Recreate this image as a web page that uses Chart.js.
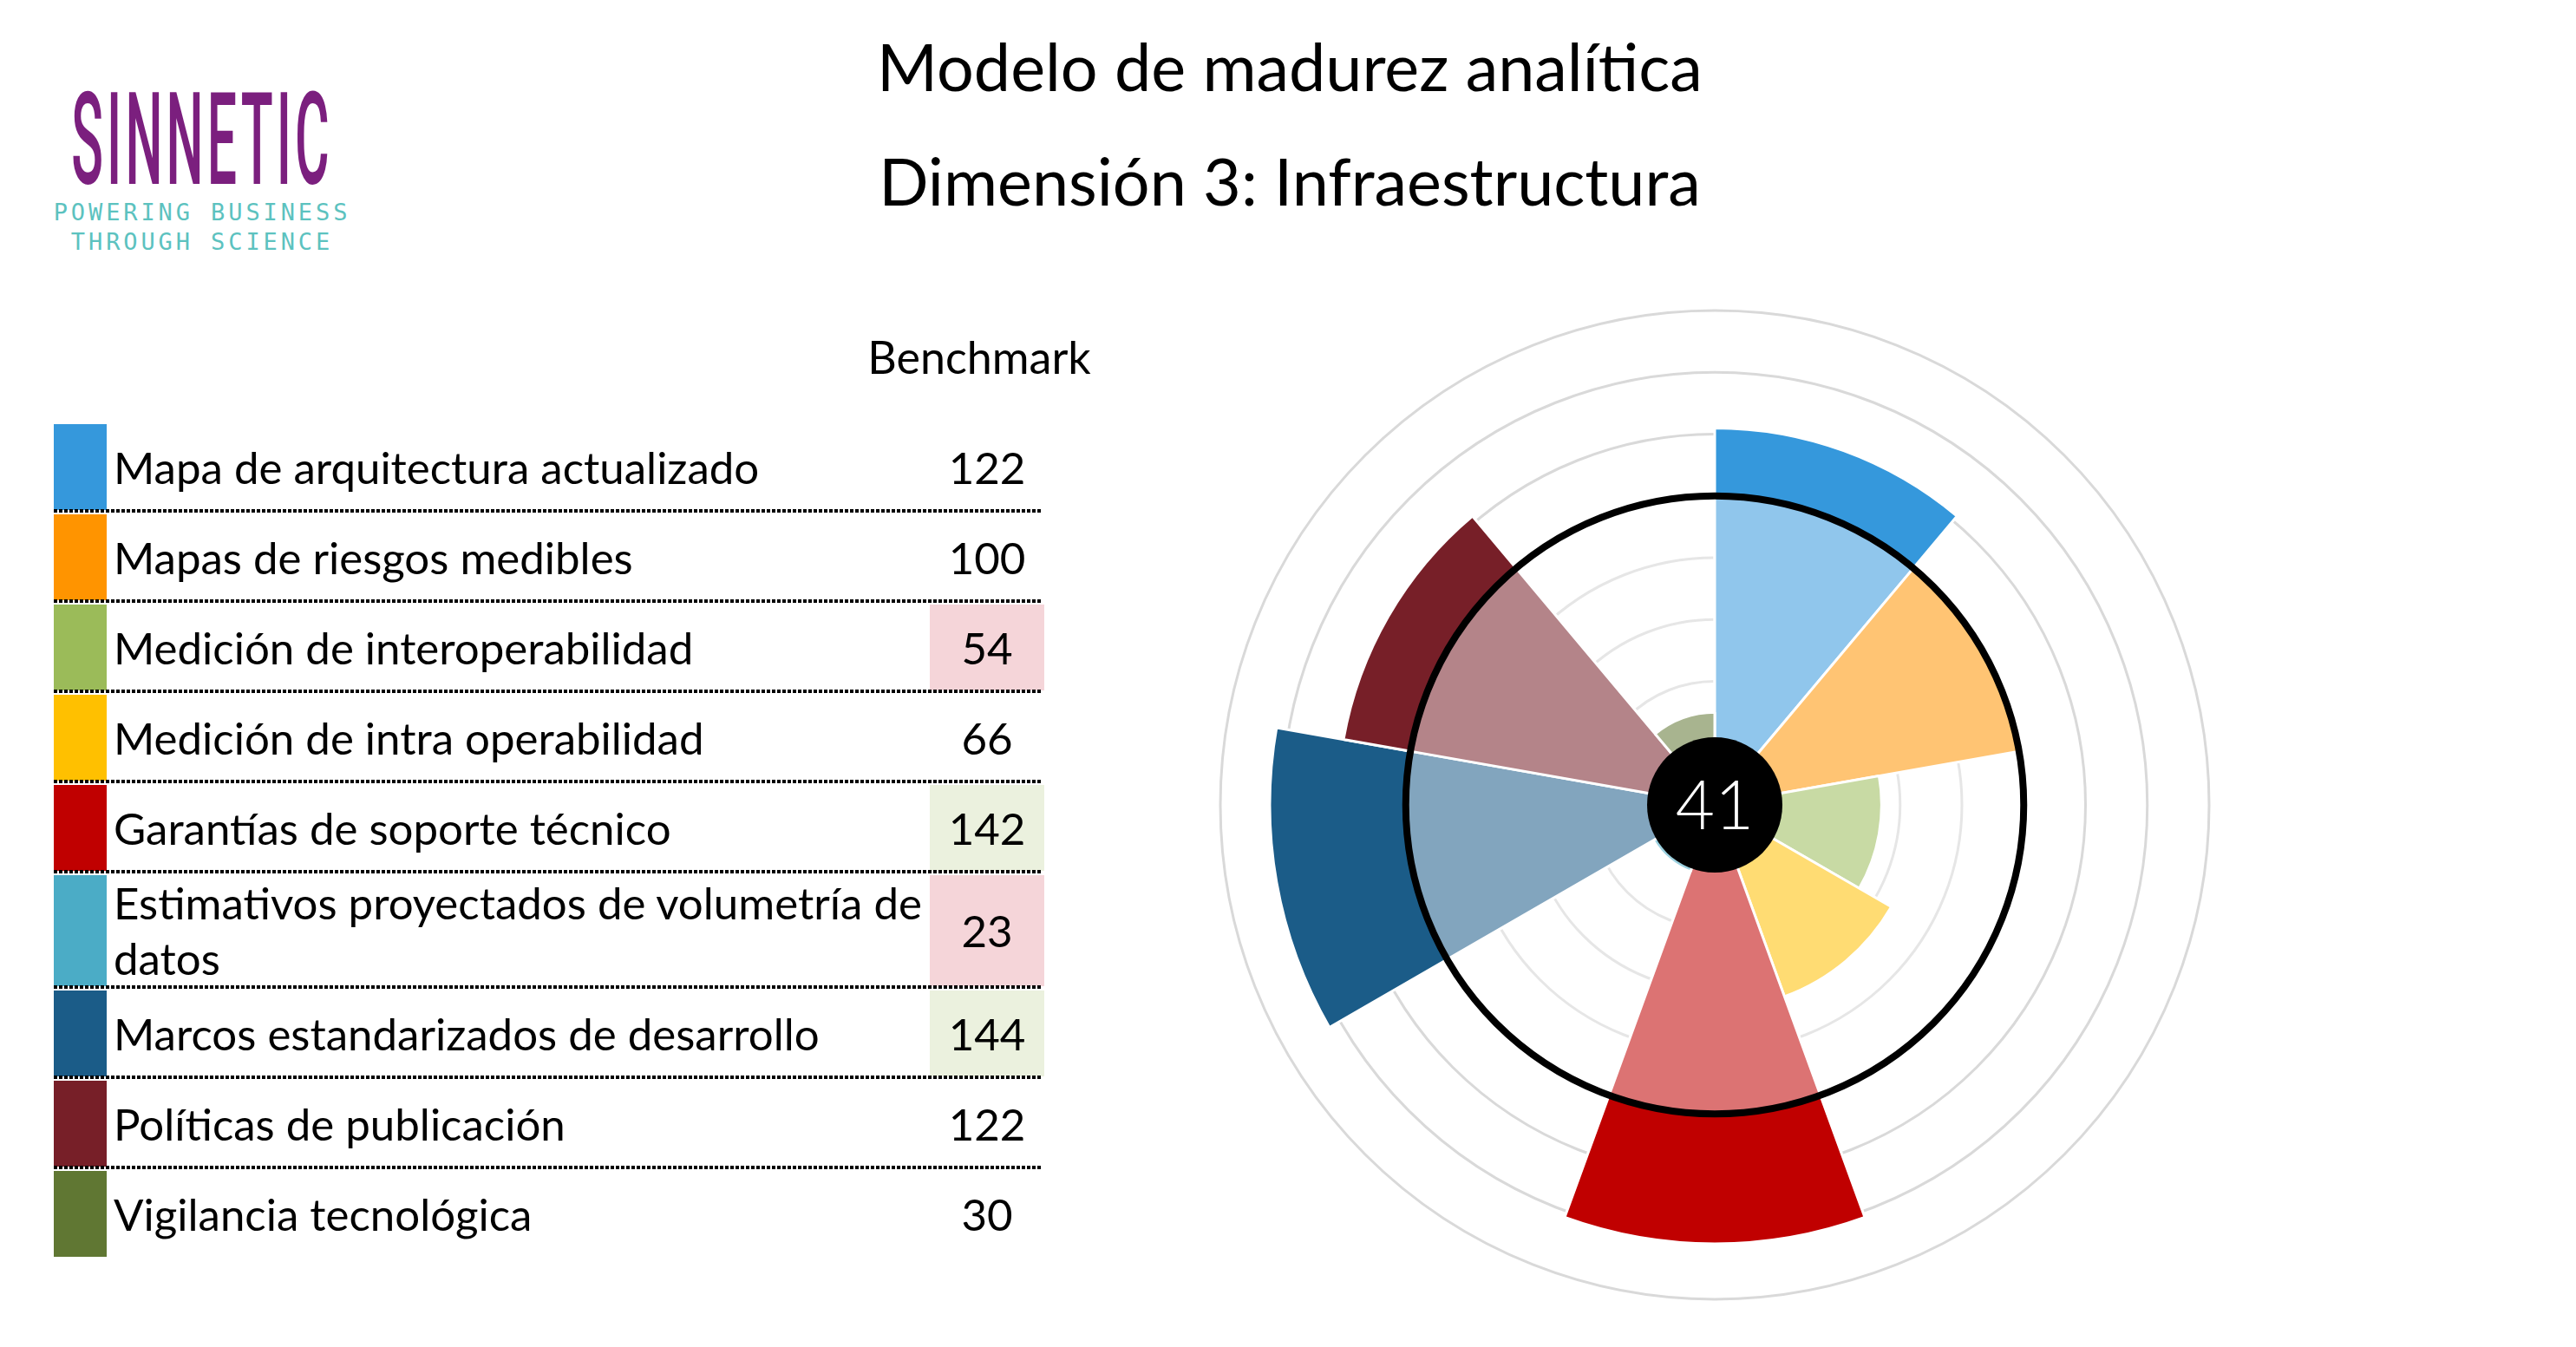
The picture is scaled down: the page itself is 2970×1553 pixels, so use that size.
<!DOCTYPE html>
<html lang="es">
<head>
<meta charset="utf-8">
<title>Modelo de madurez analítica</title>
<script src="https://cdn.jsdelivr.net/npm/chart.js@4.4.1/dist/chart.umd.min.js"></script>
<style>
  html, body { margin: 0; padding: 0; background: #fff; }
  body {
    width: 2970px; height: 1553px; position: relative; overflow: hidden;
    font-family: Lato, "Open Sans", sans-serif; color: #000;
  }

  /* ── logo ── */
  .brand {
    position: absolute; left: 233px; top: 88px;
    transform: translateX(-50%) scaleX(0.41);
    font-family: Roboto, sans-serif; font-weight: 500;
    font-size: 148px; line-height: 1; letter-spacing: 10px;
    color: #7B1F7E; white-space: nowrap;
  }
  .tag {
    position: absolute; left: 233px; top: 228px;
    transform: translateX(-50%);
    font-family: "DejaVu Sans Mono", monospace; font-size: 27px;
    line-height: 34px; letter-spacing: 3.9px; color: #5CC2BF;
    text-align: center; white-space: nowrap;
  }

  /* ── títulos ── */
  .titulo {
    position: absolute; left: 987px; width: 1000px; text-align: center;
    font-size: 75.5px; line-height: 1; white-space: nowrap;
  }
  .bench-head {
    position: absolute; left: 929px; top: 385px; width: 400px; text-align: center;
    font-size: 52px; line-height: 1;
  }

  /* ── tabla ── */
  #tabla { position: absolute; left: 62px; top: 487px; width: 1142px; }
  .fila {
    position: relative; display: flex; box-sizing: border-box; min-height: 104px;
    padding: 2px 0 3px;
  }
  .fila::after {
    content: ""; position: absolute; left: 0; right: 4px; bottom: 0; height: 4px;
    background: repeating-linear-gradient(90deg, #000 0 4px, transparent 4px 6px);
  }
  .fila:last-child::after { display: none; }
  .sw  { flex: 0 0 61px; }
  .lab { flex: 1 1 auto; padding-left: 8px; align-self: center; font-size: 51px; line-height: 64px; }
  .val {
    flex: 0 0 132px; display: flex; align-items: center; justify-content: center;
    font-size: 51px; line-height: 64px;
  }
  .val.low  { background: #F5D5D9; }
  .val.high { background: #EBF1DE; }

  /* ── gráfico ── */
  .chart-box { position: absolute; left: 1377px; top: 328px; width: 1200px; height: 1200px; }
</style>
</head>
<body>

<div class="brand">SINNETIC</div>
<div class="tag">POWERING BUSINESS<br>THROUGH SCIENCE</div>

<div class="titulo" style="top:38px">Modelo de madurez analítica</div>
<div class="titulo" style="top:170px">Dimensión 3: Infraestructura</div>

<div class="bench-head">Benchmark</div>
<div id="tabla"></div>

<div class="chart-box"><canvas id="chartRueda" width="1200" height="1200"></canvas></div>

<script>
// ── Datos ──
const labels = [
  "Mapa de arquitectura actualizado",
  "Mapas de riesgos medibles",
  "Medición de interoperabilidad",
  "Medición de intra operabilidad",
  "Garantías de soporte técnico",
  "Estimativos proyectados de volumetría de datos",
  "Marcos estandarizados de desarrollo",
  "Políticas de publicación",
  "Vigilancia tecnológica"
];
const benchmark    = [122, 100, 54, 66, 142, 23, 144, 122, 30];
// parte de cada sector que queda dentro del anillo de referencia
const dentroAnillo = [100, 100, 54, 66, 100, 23, 100, 100, 30];
// resaltado de la columna Benchmark (formato condicional)
const marcas       = ["", "", "low", "", "high", "low", "high", "", ""];
const colores      = ["#3598DC", "#FF9400", "#9BBB59", "#FFC000", "#C00000", "#4BACC6", "#1B5C88", "#771F28", "#607733"];
const escalaMax    = 160;
const pasoGrid     = 20;
const anillo       = 100;
const puntaje      = 41;

// ── Tabla ──
const tabla = document.getElementById("tabla");
labels.forEach((lab, i) => {
  const fila = document.createElement("div");
  fila.className = "fila";
  fila.innerHTML =
    `<div class="sw" style="background:${colores[i]}"></div>` +
    `<div class="lab">${lab}</div>` +
    `<div class="val ${marcas[i]}">${benchmark[i]}</div>`;
  tabla.appendChild(fila);
});

// ── Helpers ──
function tint(hex, a) {
  const n = parseInt(hex.slice(1), 16);
  const ch = [n >> 16, (n >> 8) & 255, n & 255].map(v => Math.round(v * a + 255 * (1 - a)));
  return `rgb(${ch.join(",")})`;
}

// anillo negro + círculo central con el puntaje
const centro = {
  id: "centro",
  afterDatasetsDraw(chart) {
    const { ctx } = chart;
    const r = chart.scales.r;
    const cx = r.xCenter, cy = r.yCenter;
    ctx.save();
    ctx.beginPath();
    ctx.arc(cx, cy, r.getDistanceFromCenterForValue(anillo), 0, Math.PI * 2);
    ctx.lineWidth = 8;
    ctx.strokeStyle = "#000";
    ctx.stroke();

    ctx.beginPath();
    ctx.arc(cx, cy, 78, 0, Math.PI * 2);
    ctx.fillStyle = "#000";
    ctx.fill();

    ctx.fillStyle = "#fff";
    ctx.font = "300 78px Lato, 'Open Sans', sans-serif";
    ctx.textAlign = "center";
    ctx.textBaseline = "middle";
    ctx.fillText(String(puntaje), cx, cy + 3);
    ctx.restore();
  }
};

// ── Gráfico ──
new Chart(document.getElementById("chartRueda"), {
  type: "polarArea",
  data: {
    labels,
    datasets: [
      {
        label: "Dentro del anillo",
        data: dentroAnillo,
        backgroundColor: colores.map(c => tint(c, 0.55)),
        borderColor: "#fff",
        borderWidth: 3
      },
      {
        label: "Benchmark",
        data: benchmark,
        backgroundColor: colores,
        borderColor: "#fff",
        borderWidth: 3
      }
    ]
  },
  options: {
    responsive: false,
    animation: false,
    layout: { padding: 30 },
    plugins: {
      legend: { display: false },
      tooltip: { enabled: false }
    },
    scales: {
      r: {
        min: 0,
        max: escalaMax,
        ticks: { display: false, stepSize: pasoGrid },
        grid: {
          color: c => (c.tick && c.tick.value > anillo) ? "#d9d9d9" : "#e6e6e6",
          lineWidth: 3
        },
        angleLines: { display: false },
        pointLabels: { display: false }
      }
    }
  },
  plugins: [centro]
});
</script>
</body>
</html>
